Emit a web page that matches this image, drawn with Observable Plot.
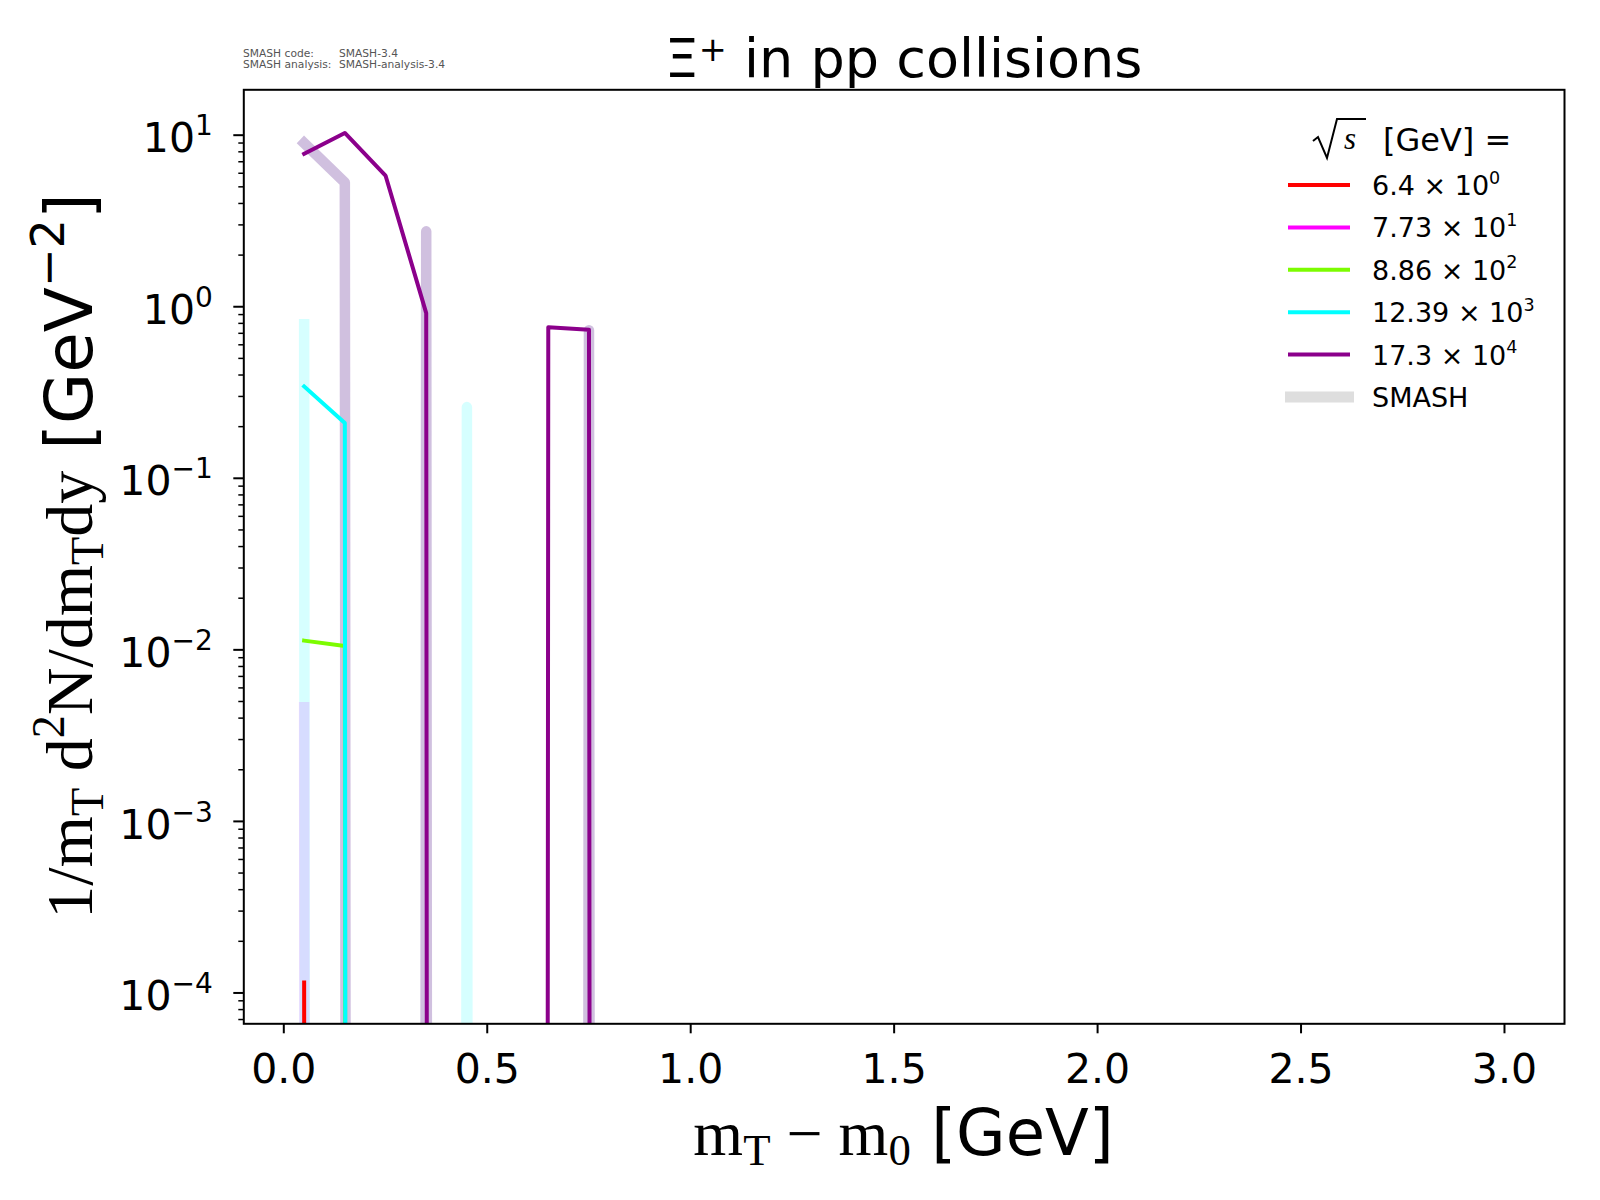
<!DOCTYPE html>
<html>
<head>
<meta charset="utf-8">
<script src="https://cdn.jsdelivr.net/npm/d3@7"></script>
<script src="https://cdn.jsdelivr.net/npm/@observablehq/plot@0.6"></script>
<style>
  body { margin: 0; background: #fff; }
  #chart { width: 1600px; height: 1200px; }
</style>
</head>
<body>
<div id="chart"></div>
<script>
// ---------------- data ----------------
const xBins = [0.05, 0.15, 0.25, 0.35, 0.45, 0.55, 0.65, 0.75, 0.85, 0.95];

const energyLabels    = ["6.4", "7.73", "8.86", "12.39", "17.3"];
const energyExponents = ["0", "1", "2", "3", "4"];

// thin curves; 0 = empty bin
const dataRed     = [1.15e-4, 0, 0, 0, 0, 0, 0, 0, 0, 0];
const dataMagenta = [0, 0, 0, 0, 0, 0, 0, 0, 0, 0];
const dataGreen   = [0.01132, 0.01054, 0, 0, 0, 0, 0, 0, 0, 0];
const dataCyan    = [0.343, 0.21, 0, 0, 0, 0, 0, 0, 0, 0];
const dataPurple  = [7.79, 10.3, 5.82, 0.918, 0, 0, 0.76, 0.735, 0, 0];

// SMASH curves (thick translucent bands)
const smashRed     = [0, 0, 0, 0, 0, 0, 0, 0, 0, 0];
const smashMagenta = [4.63e-3, 0, 0, 0, 0, 0, 0, 0, 0, 0];
const smashGreen   = [0, 0, 0, 0, 0, 0, 0, 0, 0, 0];
const smashCyan    = [0.79, 0, 0, 0, 0.26, 0, 0, 0, 0, 0];
const smashPurple  = [9.0, 5.3, 0, 2.75, 0, 0, 0, 0.73, 0, 0];

const yMajorTicks = [1e-4, 1e-3, 1e-2, 1e-1, 1, 10];
const xTicks = [0, 0.5, 1.0, 1.5, 2.0, 2.5, 3.0];

// ---------------- styles ----------------
const colors = ["#ff0000", "#ff00ff", "#7cfc00", "#00ffff", "#8b008b"];
const smashColors = ["#ff0000", "#ff00ff", "#7cfc00", "#00ffff", "#663399"];
const smashOpacity = [0.16, 0.16, 0.16, 0.16, 0.31];
const yDomain = [6.61e-5, 18.39];
const xDomain = [-0.0983, 3.1475];
const FLOOR = 1e-300; // log-scale stand-in for empty bins (clipped away)

const dataSeries  = [dataRed, dataMagenta, dataGreen, dataCyan, dataPurple];
const smashSeries = [smashRed, smashMagenta, smashGreen, smashCyan, smashPurple];
const toRows = vals => xBins.map((x, i) => ({x, y: vals[i]}));

const yMinorTicks = [];
for (let e = -5; e <= 1; e++) {
  for (let m = 2; m <= 9; m++) {
    const v = m * Math.pow(10, e);
    if (v >= yDomain[0] && v <= yDomain[1]) yMinorTicks.push(v);
  }
}

const svg = Plot.plot({
  width: 1600,
  height: 1200,
  marginLeft: 243.3,
  marginRight: 36,
  marginTop: 89.3,
  marginBottom: 176.7,
  style: {fontFamily: "DejaVu Sans", color: "black", background: "white"},
  x: {domain: xDomain},
  y: {type: "log", domain: yDomain},
  marks: [
    ...smashSeries.map((vals, i) => Plot.line(toRows(vals), {
      x: "x", y: d => Math.max(d.y, FLOOR),
      stroke: smashColors[i], strokeOpacity: smashOpacity[i], strokeWidth: 10.5,
      strokeLinejoin: "round", strokeLinecap: "square", clip: true
    })),
    ...dataSeries.map((vals, i) => Plot.line(toRows(vals), {
      x: "x", y: d => Math.max(d.y, FLOOR),
      stroke: colors[i], strokeWidth: 4,
      strokeLinejoin: "round", strokeLinecap: "square", clip: true
    })),
    Plot.axisY({ticks: yMinorTicks, tickSize: 5, strokeWidth: 1.5, tickFormat: () => "", label: null}),
    Plot.axisY({ticks: yMajorTicks, tickSize: 10, strokeWidth: 2, tickPadding: 21, fontSize: 41,
      tickFormat: d => "10^" + Math.round(Math.log10(d)), label: null}),
    Plot.axisX({ticks: xTicks, tickSize: 10, strokeWidth: 2, tickPadding: 20, fontSize: 41,
      tickFormat: d => d.toFixed(1), label: null}),
    Plot.frame({strokeWidth: 2})
  ]
});

const s = d3.select(svg);

// y tick labels as 10 with superscript exponent
s.selectAll('[aria-label="y-axis tick label"] text').each(function () {
  const t = this.textContent;
  if (!t.startsWith("10^")) return;
  const exp = t.slice(3).replace("-", "\u2212");
  const el = d3.select(this);
  el.text(null);
  el.append("tspan").text("10");
  el.append("tspan").attr("dy", -17).attr("font-size", 28).text(exp);
  const tr = el.attr("transform") || "";
  el.attr("transform", tr + " translate(0,4)");
});

// rich text helper (sub/superscripts)
function richText(parent, {x, y, anchor = "start", size, family, rotate = 0, fill = "black",
                           italic = false, supScale = 0.7, supShift = 0.42, subShift = 0.16}, segs) {
  const t = parent.append("text")
    .attr("text-anchor", anchor)
    .attr("font-size", size)
    .attr("font-family", family)
    .attr("fill", fill)
    .attr("style", "white-space:pre")
    .attr("transform", `translate(${x},${y})` + (rotate ? ` rotate(${rotate})` : ""));
  if (italic) t.attr("font-style", "italic");
  let shift = 0;
  for (const sg of segs) {
    const target = sg.sub ? size * subShift : sg.sup ? -size * supShift : 0;
    const ts = t.append("tspan").text(sg.t);
    if (target - shift !== 0) ts.attr("dy", target - shift);
    if (sg.sub || sg.sup) ts.attr("font-size", size * supScale);
    if (sg.f) ts.attr("font-family", sg.f);
    shift = target;
  }
  return t;
}

// title
richText(s, {x: 903.6, y: 77, anchor: "middle", size: 54, family: "DejaVu Sans", supScale: 0.62, supShift: 0.3},
  [{t: "\u039E"}, {t: "+", sup: true}, {t: " in pp collisions"}]);

// version stamp
const stamp = [["SMASH code:", "SMASH-3.4"], ["SMASH analysis:", "SMASH-analysis-3.4"]];
stamp.forEach(([a, b], i) => {
  richText(s, {x: 243, y: 57 + i * 11, size: 10.7, family: "DejaVu Sans", fill: "#555"}, [{t: a}]);
  richText(s, {x: 339, y: 57 + i * 11, size: 10.7, family: "DejaVu Sans", fill: "#555"}, [{t: b}]);
});

// x label
richText(s, {x: 903.6, y: 1155, anchor: "middle", size: 64, family: "Liberation Serif"},
  [{t: "m"}, {t: "T", sub: true}, {t: " \u2212 m"}, {t: "0", sub: true}, {t: " [GeV]", f: "DejaVu Sans"}]);

// y label
richText(s, {x: 92, y: 556, anchor: "middle", size: 66, family: "Liberation Serif", rotate: -90},
  [{t: "1/m"}, {t: "T", sub: true}, {t: " d"}, {t: "2", sup: true}, {t: "N/dm"}, {t: "T", sub: true},
   {t: "dy"}, {t: " [GeV", f: "DejaVu Sans"}, {t: "\u22122", sup: true, f: "DejaVu Sans"}, {t: "]", f: "DejaVu Sans"}]);

// legend
const lg = s.append("g");
lg.append("path").attr("d", "M1313,141 L1318,137 L1327,158 L1337,119 L1366,119")
  .attr("fill", "none").attr("stroke", "black").attr("stroke-width", 2);
richText(lg, {x: 1344, y: 149, size: 31, family: "Liberation Serif", italic: true}, [{t: "s"}]);
richText(lg, {x: 1383, y: 151, size: 32, family: "DejaVu Sans"}, [{t: "[GeV] ="}]);

const row0 = 185, rowStep = 42.4;
energyLabels.forEach((lab, i) => {
  const cy = row0 + i * rowStep;
  lg.append("line").attr("x1", 1288).attr("x2", 1350).attr("y1", cy).attr("y2", cy)
    .attr("stroke", colors[i]).attr("stroke-width", 4);
  richText(lg, {x: 1372, y: cy + 10, size: 27, family: "DejaVu Sans", supScale: 0.65},
    [{t: lab + " \u00D7 10"}, {t: energyExponents[i], sup: true}]);
});
{
  const cy = row0 + 5 * rowStep;
  lg.append("line").attr("x1", 1285).attr("x2", 1354).attr("y1", cy).attr("y2", cy)
    .attr("stroke", "#dedede").attr("stroke-width", 11);
  richText(lg, {x: 1372, y: cy + 10, size: 27, family: "DejaVu Sans"}, [{t: "SMASH"}]);
}

document.getElementById("chart").appendChild(svg);
</script>
</body>
</html>
